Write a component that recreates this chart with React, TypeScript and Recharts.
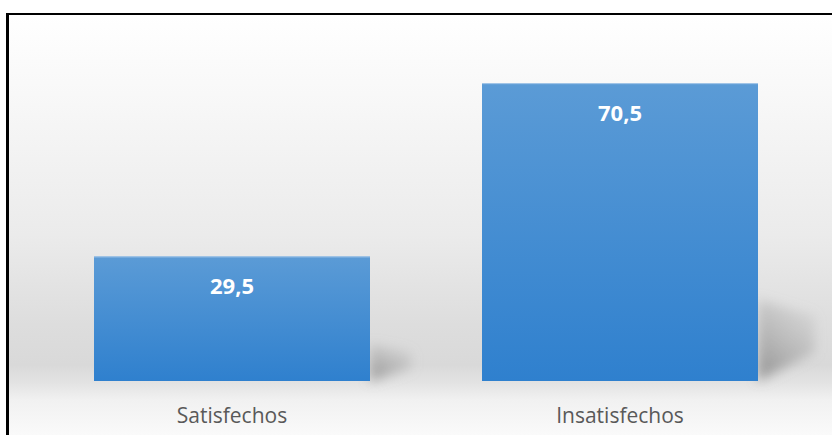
import React from 'react';
import { BarChart, Bar, XAxis, YAxis, LabelList } from 'recharts';

// Chart data
const categories = ['Satisfechos', 'Insatisfechos'];
const values = [29.5, 70.5];

const data = categories.map((name, i) => ({ name, value: values[i] }));

const formatValue = (v: any) => String(v).replace('.', ',');

// Bar with a soft perspective shadow on its lower right side
const ShadowBar = (props: any) => {
  const { x, y, width, height } = props;
  const right = x + width;
  const bottom = y + height;
  const k = height * 0.26 + 4;
  const w = 30 + height * 0.09;
  return (
    <g>
      <path
        d={`M${right},${bottom - k} L${right + w},${bottom - k * 0.8} L${right + w},${bottom - k * 0.35} L${right},${bottom} Z`}
        fill="url(#shadowGrad)"
        filter="url(#barShadowBlur)"
      />
      <rect x={x} y={y} width={width} height={height} fill="url(#barGrad)" />
      <rect x={x} y={y} width={width} height={1} fill="#a8c9ea" />
    </g>
  );
};

const CategoryTick = ({ x, y, payload }: any) => (
  <text
    x={x}
    y={y + 34}
    textAnchor="middle"
    fill="#595959"
    fontSize={21}
    fontFamily="'Open Sans', sans-serif"
  >
    {payload.value}
  </text>
);

export default function App() {
  return (
    <div style={{ position: 'absolute', left: 0, top: 0, width: 832, height: 435, overflow: 'hidden', background: '#fff' }}>
      <div
        style={{
          position: 'absolute',
          left: 6,
          top: 13,
          width: 840,
          height: 440,
          borderTop: '2px solid #000',
          borderLeft: '3px solid #000',
          background:
            'linear-gradient(to bottom, #ffffff 0px, #f7f7f7 90px, #ebebeb 220px, #dddddd 310px, #d9d9d9 350px, #e3e3e3 368px, #f1f1f1 385px, #fafafa 420px)',
        }}
      />
      <div style={{ position: 'absolute', left: 0, top: 0 }}>
        <BarChart
          width={832}
          height={435}
          data={data}
          margin={{ top: 43, right: 18, left: 38, bottom: 0 }}
        >
          <defs>
            <linearGradient id="barGrad" x1="0" y1="0" x2="0" y2="1">
              <stop offset="0%" stopColor="#5b9bd6" />
              <stop offset="100%" stopColor="#2f80ce" />
            </linearGradient>
            <linearGradient id="shadowGrad" x1="0" y1="1" x2="0.6" y2="0">
              <stop offset="0%" stopColor="#7f7f7f" stopOpacity={0.8} />
              <stop offset="100%" stopColor="#a6a6a6" stopOpacity={0.2} />
            </linearGradient>
            <filter id="barShadowBlur" x="-50%" y="-50%" width="200%" height="200%">
              <feGaussianBlur stdDeviation="6" />
            </filter>
          </defs>
          <XAxis
            dataKey="name"
            axisLine={false}
            tickLine={false}
            height={54}
            interval={0}
            tick={<CategoryTick />}
          />
          <YAxis hide domain={[0, 80]} />
          <Bar dataKey="value" barSize={276} shape={<ShadowBar />} isAnimationActive={false}>
            <LabelList
              dataKey="value"
              position="insideTop"
              offset={22}
              formatter={formatValue}
              fill="#ffffff"
              fontSize={22}
              fontWeight="bold"
              fontFamily="'Open Sans', sans-serif"
            />
          </Bar>
        </BarChart>
      </div>
    </div>
  );
}
